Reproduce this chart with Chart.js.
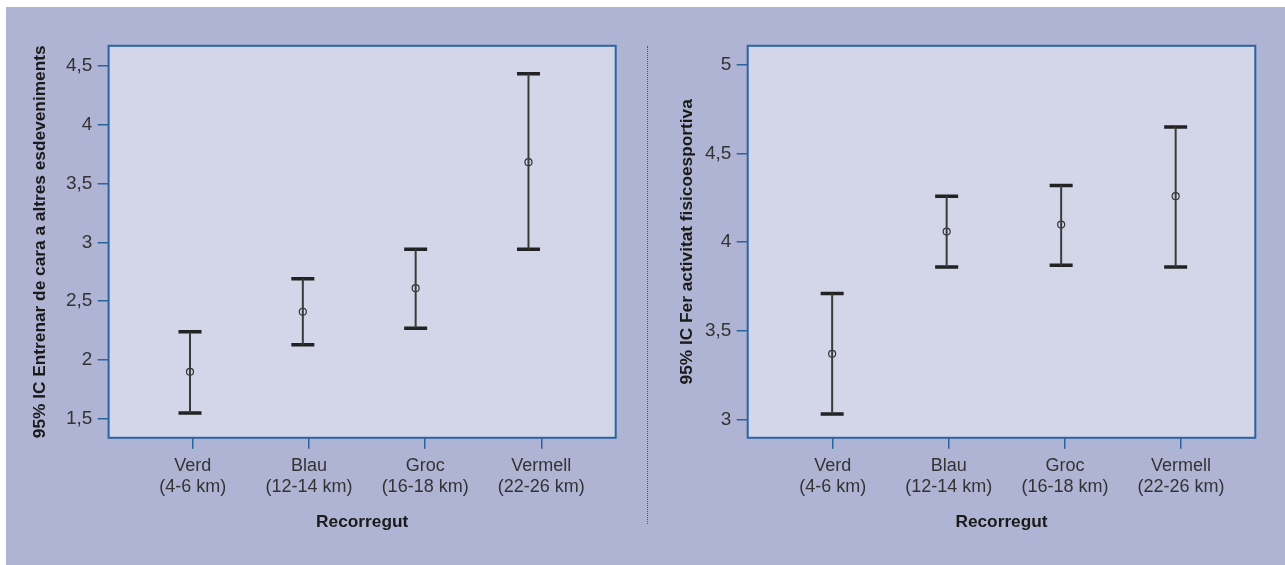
<!DOCTYPE html>
<html>
<head>
<meta charset="utf-8">
<script src="https://cdn.jsdelivr.net/npm/chart.js@4/dist/chart.umd.min.js"></script>
<style>
  html, body { margin: 0; padding: 0; background: #ffffff; }
  #page { position: relative; width: 1285px; height: 565px; overflow: hidden; }
  #bg { position: absolute; left: 6px; top: 7px; width: 1279px; height: 558px; background: #b0b4d4; }
  #c1 { position: absolute; left: 0; top: 0; }
  #c2 { position: absolute; left: 645px; top: 0; }
  #sep { position: absolute; left: 647px; top: 46px; height: 478px; width: 0; border-left: 1px dotted #555; }
</style>
</head>
<body>
<div id="page">
  <div id="bg"></div>
  <div id="sep"></div>
  <canvas id="c1" width="645" height="565" style="width:645px;height:565px"></canvas>
  <canvas id="c2" width="640" height="565" style="width:640px;height:565px"></canvas>
</div>
<script>
// ---- data ----
const categories = [
  ['Verd', '(4-6 km)'],
  ['Blau', '(12-14 km)'],
  ['Groc', '(16-18 km)'],
  ['Vermell', '(22-26 km)']
];
const categoryPositions = [1, 2, 3, 4];

const leftTitle = '95% IC Entrenar de cara a altres esdeveniments';
const leftMean  = [1.90, 2.41, 2.61, 3.68];
const leftLower = [1.55, 2.13, 2.27, 2.94];
const leftUpper = [2.24, 2.69, 2.94, 4.43];
const leftYTicks = [1.5, 2, 2.5, 3, 3.5, 4, 4.5];

const rightTitle = '95% IC Fer activitat fisicoesportiva';
const rightMean  = [3.37, 4.06, 4.10, 4.26];
const rightLower = [3.03, 3.86, 3.87, 3.86];
const rightUpper = [3.71, 4.26, 4.32, 4.65];
const rightYTicks = [3, 3.5, 4, 4.5, 5];

const xTitle = 'Recorregut';

// ---- styling ----
const FONT = "'Liberation Sans', Arial, sans-serif";
const FRAME = '#2b63a0';
const PLOT_BG = '#d3d6e8';
const TEXT = '#333333';

const framePlugin = {
  id: 'frame',
  beforeDatasetsDraw(chart) {
    const { ctx, chartArea: a } = chart;
    ctx.save();
    ctx.fillStyle = PLOT_BG;
    ctx.fillRect(a.left, a.top, a.right - a.left, a.bottom - a.top);
    ctx.restore();
  },
  afterDatasetsDraw(chart) {
    const { ctx, chartArea: a } = chart;
    ctx.save();
    ctx.strokeStyle = FRAME;
    ctx.lineWidth = 2;
    ctx.strokeRect(a.left, a.top, a.right - a.left, a.bottom - a.top);
    ctx.restore();
  }
};

function fmt(v) { return String(v).replace('.', ','); }

function makeChart(canvasId, cfg) {
  const whisker = [];
  const caps = [];
  const means = [];
  categoryPositions.forEach((x, i) => {
    whisker.push({ x: x, y: cfg.lower[i] }, { x: x, y: cfg.upper[i] }, { x: x, y: null });
    caps.push({ x: x, y: cfg.lower[i] }, { x: x, y: cfg.upper[i] });
    means.push({ x: x, y: cfg.mean[i] });
  });

  return new Chart(document.getElementById(canvasId), {
    type: 'scatter',
    data: {
      datasets: [
        {
          data: whisker, showLine: true, spanGaps: false,
          borderColor: '#3a3a3a', borderWidth: 2, pointRadius: 0,
          xAxisID: 'xd', yAxisID: 'y'
        },
        {
          data: caps, pointStyle: 'line', pointRadius: 11.5, pointBorderWidth: 3.5,
          pointBorderColor: '#222222', borderColor: '#222222', showLine: false,
          xAxisID: 'xd', yAxisID: 'y'
        },
        {
          data: means, pointStyle: 'circle', pointRadius: 3.5, pointBorderWidth: 1.2,
          pointBorderColor: '#333333', pointBackgroundColor: 'rgba(0,0,0,0)', showLine: false,
          xAxisID: 'xd', yAxisID: 'y'
        }
      ]
    },
    options: {
      responsive: false,
      animation: false,
      events: [],
      layout: { padding: { top: 45.8, right: cfg.padRight, bottom: 0, left: 0 } },
      plugins: { legend: { display: false }, tooltip: { enabled: false } },
      scales: {
        xd: {
          type: 'linear', position: 'bottom', display: false,
          min: cfg.xdMin, max: cfg.xdMax
        },
        x: {
          type: 'linear', position: 'bottom',
          min: cfg.xMin, max: cfg.xMax,
          afterBuildTicks(s) { s.ticks = categoryPositions.map(v => ({ value: v })); },
          afterFit(s) { s.height = 565 - 437.8; },
          border: { display: false },
          grid: { display: true, drawOnChartArea: false, drawTicks: true, tickLength: 11, color: FRAME, lineWidth: 1.5 },
          ticks: {
            autoSkip: false, maxRotation: 0, minRotation: 0, padding: 6,
            color: TEXT, font: { family: FONT, size: 18, lineHeight: 1.2 },
            callback: (v, i) => categories[i]
          },
          title: {
            display: true, text: xTitle, color: '#1a1a1a',
            font: { family: FONT, size: 17.3, weight: 'bold', lineHeight: 1.2 },
            padding: { top: 0, bottom: 31.9 }
          }
        },
        y: {
          type: 'linear', position: 'left',
          min: cfg.yMin, max: cfg.yMax,
          afterBuildTicks(s) { s.ticks = cfg.yTicks.map(v => ({ value: v })); },
          afterFit(s) { s.width = cfg.yWidth; },
          border: { display: false },
          grid: { display: true, drawOnChartArea: false, drawTicks: true, tickLength: 11, color: FRAME, lineWidth: 1.5 },
          ticks: {
            padding: 5.3, color: TEXT, font: { family: FONT, size: 19 },
            callback: v => fmt(v)
          },
          title: {
            display: true, text: cfg.title, color: '#1a1a1a',
            font: { family: FONT, size: 17.3, weight: 'bold', lineHeight: 1.2 },
            padding: { top: cfg.titlePad, bottom: 0 }
          }
        }
      }
    },
    plugins: [framePlugin]
  });
}

makeChart('c1', {
  mean: leftMean, lower: leftLower, upper: leftUpper, yTicks: leftYTicks,
  title: leftTitle,
  yMin: 1.34, yMax: 4.668,
  xMin: 0.2752, xMax: 4.6404,
  xdMin: 0.2786, xdMax: 4.773,
  yWidth: 108.6, padRight: 29.3, titlePad: 30.3
});

makeChart('c2', {
  mean: rightMean, lower: rightLower, upper: rightUpper, yTicks: rightYTicks,
  title: rightTitle,
  yMin: 2.896, yMax: 5.109,
  xMin: 0.2679, xMax: 4.64,
  xdMin: 0.2624, xdMax: 4.6956,
  yWidth: 102.7, padRight: 29.7, titlePad: 32.1
});
</script>
</body>
</html>
